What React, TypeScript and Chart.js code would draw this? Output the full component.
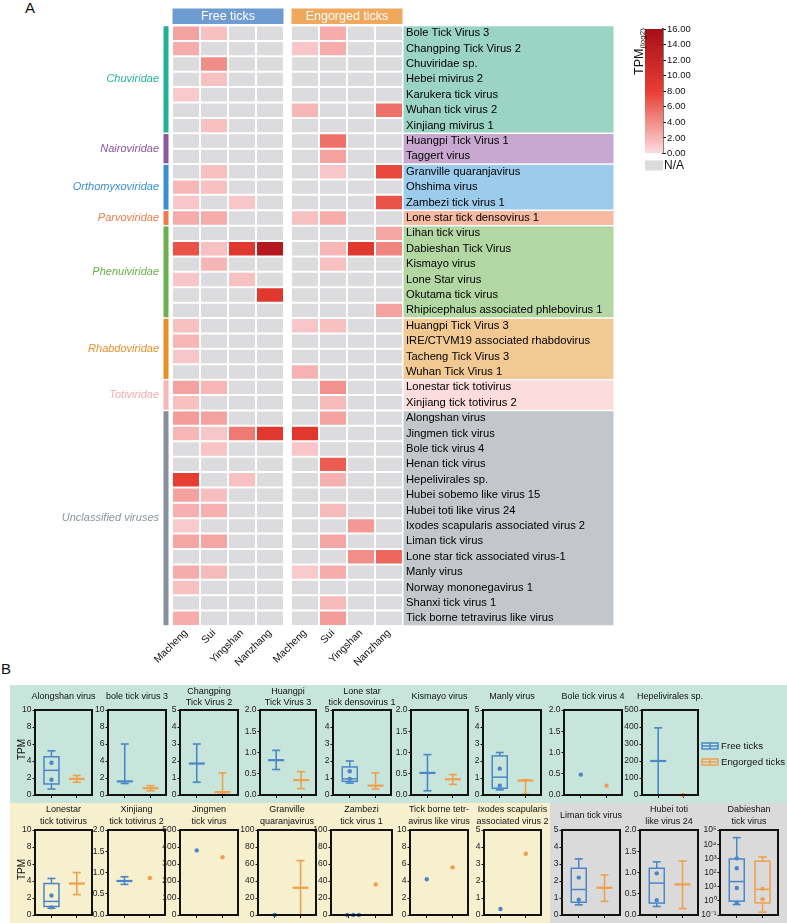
import React, { useEffect, useRef } from 'react';
import { Chart, registerables } from 'chart.js';

Chart.register(...registerables);

const FONT = '"Liberation Sans", Arial, Helvetica, sans-serif';
Chart.defaults.font.family = FONT;
Chart.defaults.color = '#111';

// ---------------- Panel A data ----------------
const virusNames = [
  'Bole Tick Virus 3', 'Changping Tick Virus 2', 'Chuviridae sp.', 'Hebei mivirus 2', 'Karukera tick virus',
  'Wuhan tick virus 2', 'Xinjiang mivirus 1',
  'Huangpi Tick Virus 1', 'Taggert virus',
  'Granville quaranjavirus', 'Ohshima virus', 'Zambezi tick virus 1',
  'Lone star tick densovirus 1',
  'Lihan tick virus', 'Dabieshan Tick Virus', 'Kismayo virus', 'Lone Star virus', 'Okutama tick virus',
  'Rhipicephalus associated phlebovirus 1',
  'Huangpi Tick Virus 3', 'IRE/CTVM19 associated rhabdovirus', 'Tacheng Tick Virus 3', 'Wuhan Tick Virus 1',
  'Lonestar tick totivirus', 'Xinjiang tick totivirus 2',
  'Alongshan virus', 'Jingmen tick virus', 'Bole tick virus 4', 'Henan tick virus', 'Hepelivirales sp.',
  'Hubei sobemo like virus 15', 'Hubei toti like virus 24', 'Ixodes scapularis associated virus 2',
  'Liman tick virus', 'Lone star tick associated virus-1', 'Manly virus', 'Norway mononegavirus 1',
  'Shanxi tick virus 1', 'Tick borne tetravirus like virus',
];
const familyNames = ['Chuviridae', 'Nairoviridae', 'Orthomyxoviridae', 'Parvoviridae', 'Phenuiviridae', 'Rhabdoviridae', 'Totiviridae', 'Unclassified viruses'];
const familySizes = [7, 2, 3, 1, 6, 4, 2, 14];
const siteNames = ['Macheng', 'Sui', 'Yingshan', 'Nanzhang'];
const groupNames = ['Free ticks', 'Engorged ticks'];
const _ = null;
// log2 TPM, null = N/A
const freeMacheng = [3, 2.5, _, _, 1, _, _, _, _, _, 2, 1.2, 2.5, _, 7, _, 1.2, _, _, 1.5, 2, 1.2, _, 3, 1.5, 3.3, 2, _, _, 8, 3, 2.3, 1, 2.8, _, 2.5, 1.5, _, 2.5];
const freeSui = [1.5, _, 4, 1.5, _, _, 1.5, _, _, 1.5, 1.5, _, 2.5, _, 1.5, 2, _, _, _, _, _, _, _, 2, _, 3, 1.2, 1.3, _, _, 1.6, 2.3, _, 2.8, _, 1.8, _, _, _];
const freeYingshan = [_, _, _, _, _, _, _, _, _, _, _, 1.2, _, _, 9, _, 1.5, _, _, _, _, _, _, _, _, _, 5, _, _, 1.5, _, _, _, _, _, _, _, _, _];
const freeNanzhang = [_, _, _, _, _, _, _, _, _, _, _, _, _, _, 14.5, _, _, 9, _, _, _, _, _, _, _, _, 9, _, _, _, _, _, _, _, _, _, _, _, _];
const engMacheng = [_, 1.2, _, _, _, 2, _, _, _, _, _, _, 1.5, _, _, _, _, _, _, 1.2, _, _, 2.2, _, _, _, 9, 1.2, _, _, _, _, _, _, _, 1, _, _, _];
const engSui = [2.5, 2.5, _, _, _, _, _, 5.5, 3, 1.2, _, _, 2.5, _, 2, 1.5, _, _, _, 1.5, _, _, _, 3.8, 1.8, 3, _, _, 6.5, 2.3, _, 1.8, _, 2.8, _, 2.5, _, 1.8, 3.3];
const engYingshan = [_, _, _, _, _, _, _, _, _, _, _, _, _, _, 9, _, _, _, _, _, _, _, _, _, _, _, _, _, _, _, _, _, 3.5, _, 4, _, _, _, _];
const engNanzhang = [_, _, _, _, _, 5.5, _, _, _, 7.5, _, 7, _, 2.8, 4.5, _, _, _, 3, _, _, _, _, _, _, _, _, _, _, _, _, _, _, _, 6, _, _, _, _];
const heatColumns = [freeMacheng, freeSui, freeYingshan, freeNanzhang, engMacheng, engSui, engYingshan, engNanzhang];
const colorbarTicks = [0, 2, 4, 6, 8, 10, 12, 14, 16];

// ---------------- Panel A styles ----------------
const familyText = ['#25b392', '#8e55a0', '#3a8fd0', '#ef7b4a', '#6ab04c', '#e98f2a', '#f3aeb0', '#8a93a0'];
const familyBar = ['#22b394', '#8e55a0', '#3a8fd0', '#ef7b4a', '#6ab04c', '#e98f2a', '#f5b8b8', '#868f9c'];
const familyBg = ['#9bd3c5', '#c8a7d1', '#9ccbec', '#f6b9a2', '#b3d7a3', '#f2c893', '#fcdcdc', '#c3c6cb'];
const headerColors = ['#6e9bd0', '#f0a95c'];
const NA_COLOR = '#dcdcde';
const gradStops: [number, number[]][] = [[0, [251, 222, 226]], [8, [232, 62, 50]], [16, [165, 15, 25]]];

function heatColor(v: number | null) {
  if (v == null) return NA_COLOR;
  for (let i = 0; i < gradStops.length - 1; i++) {
    const [a, ca] = gradStops[i];
    const [b, cb] = gradStops[i + 1];
    if (v <= b) {
      const t = Math.max(0, (v - a) / (b - a));
      const c = ca.map((x, k) => Math.round(x + (cb[k] - x) * t));
      return `rgb(${c.join(',')})`;
    }
  }
  return `rgb(${gradStops[gradStops.length - 1][1].join(',')})`;
}
const colStart = (i: number) => (i < 4 ? i : i + 0.25);

// ---------------- Panel B data ----------------
type Stats = (number | null)[] | null; // [min, q1, median, q3, max]
const row1Titles = ['Alongshan virus', 'bole tick virus 3', 'Changping\nTick Virus 2', 'Huangpi\nTick Virus 3', 'Lone star\ntick densovirus 1', 'Kismayo virus', 'Manly virus', 'Bole tick virus 4', 'Hepelivirales sp.'];
const row1YMax = [10, 10, 5, 2, 5, 2, 5, 2, 500];
const row1YStep = [2, 2, 1, 0.5, 1, 0.5, 1, 0.5, 100];
const row1FreeBox: Stats[] = [[0.7, 1.3, 2.9, 4.5, 5.2], [1.35, _, 1.6, _, 6.0], [0.75, _, 1.85, _, 3.0], [0.6, _, 0.82, _, 1.05], [0.7, 0.8, 0.95, 1.65, 2.0], [0.1, _, 0.52, _, 0.95], [0.3, 0.4, 1.05, 2.3, 2.5], null, [0, _, 200, _, 395]];
const row1EngBox: Stats[] = [[1.5, _, 1.9, _, 2.3], [0.5, _, 0.8, _, 1.1], [0.05, _, 0.17, _, 1.3], [0.15, _, 0.35, _, 0.55], [0.35, _, 0.55, _, 1.3], [0.25, _, 0.37, _, 0.48], [0.05, _, 0.85, _, 0.9], null, null];
const row1FreePts = [[3.8, 1.8], [], [], [], [1.4, 0.95], [], [1.55, 0.55], [0.48], []];
const row1EngPts = [[], [], [], [], [], [], [], [0.22], [0]];

const row2Titles = ['Lonestar\ntick totivirus', 'Xinjiang\ntick totivirus 2', 'Jingmen\ntick virus', 'Granville\nquaranjavirus', 'Zambezi\ntick virus 1', 'Tick borne tetr-\navirus like virus', 'Ixodes scapularis\nassociated virus 2', 'Liman tick virus', 'Hubei toti\nlike virus 24', 'Dabieshan\ntick virus'];
const row2YMax = [10, 2, 500, 100, 100, 10, 5, 5, 2, 100000];
const row2YStep = [2, 0.5, 100, 20, 20, 2, 1, 1, 0.5, 0];
const row2LogScale = [false, false, false, false, false, false, false, false, false, true];
const logExponents = [-1, 0, 1, 2, 3, 4, 5];
const row2FreeBox: Stats[] = [[0.8, 1.0, 1.6, 3.7, 4.3], [0.72, _, 0.8, _, 0.9], null, null, null, null, null, [0.6, 0.75, 1.5, 2.75, 3.3], [0.2, 0.28, 0.75, 1.1, 1.25], [0.55, 0.95, 23, 900, 29000]];
const row2EngBox: Stats[] = [[2.4, _, 3.7, _, 5.0], null, null, [0, _, 32, _, 64], null, null, null, [0.8, _, 1.6, _, 2.35], [0.15, _, 0.72, _, 1.27], [0.16, 0.72, 6.5, 630, 1260]];
const row2FreePts = [[2.3, 0.9], [], [380], [0], [0, 0, 0], [4.2], [0.35], [2.2, 0.9], [0.98, 0.35], [1000, 200, 8, 0.7]];
const row2EngPts = [[], [0.87], [340], [], [36], [5.6], [3.6], [], [], [7, 1.3]];
const row2FreeJitter = [[], [], [], [], [-0.05, 0.17, 0.38], [], [], [], [], []];

// ---------------- Panel B layout ----------------
const row1Frames = [[35, 92], [108, 166], [180, 238], [260, 316], [333, 391], [411, 468], [483, 541], [564, 622], [642, 698]];
const row2Frames = [[35, 92], [108, 165], [180, 238], [258, 316], [331, 392], [410, 468], [484, 541], [562, 620], [640, 698], [720, 778]];
const BLUE = '#4a86c8';
const ORANGE = '#f0a04b';
const legendLabels = ['Free ticks', 'Engorged ticks'];

function ChartBox({ config, left, top, width, height }: any) {
  const ref = useRef<HTMLCanvasElement>(null);
  useEffect(() => {
    let chart: any = null;
    try {
      chart = new Chart(ref.current as HTMLCanvasElement, config);
    } catch (e) {
      console.error(e);
    }
    return () => { if (chart) chart.destroy(); };
  }, []);
  return (
    <canvas
      ref={ref}
      width={width}
      height={height}
      style={{ position: 'absolute', left, top, width, height }}
    />
  );
}

// ---------------- Heatmap ----------------
const heatPlugin = {
  id: 'heatDecor',
  beforeDraw(chart: any) {
    const { ctx, chartArea: ca, scales } = chart;
    const x = scales.x, y = scales.y;
    const half = (y.getPixelForValue(1) - y.getPixelForValue(0)) / 2;
    let start = 0;
    ctx.save();
    familyNames.forEach((name, f) => {
      const end = start + familySizes[f] - 1;
      const top = y.getPixelForValue(start) - half;
      const bot = y.getPixelForValue(end) + half;
      ctx.fillStyle = familyBg[f];
      ctx.fillRect(ca.right + 0.5, top + 0.75, 210, bot - top - 1.5);
      ctx.fillStyle = familyBar[f];
      ctx.fillRect(ca.left - 8.5, top + 0.75, 5, bot - top - 1.5);
      ctx.fillStyle = familyText[f];
      ctx.font = `italic 11px ${FONT}`;
      ctx.textAlign = 'right';
      ctx.textBaseline = 'middle';
      ctx.fillText(name, ca.left - 13, (top + bot) / 2);
      start = end + 1;
    });
    groupNames.forEach((g, k) => {
      const l = x.getPixelForValue(colStart(k * 4)) + 0.5;
      const r = x.getPixelForValue(colStart(k * 4 + 3) + 1) - 0.5;
      ctx.fillStyle = headerColors[k];
      ctx.fillRect(l, ca.top - 17, r - l, 15.5);
      ctx.fillStyle = '#fff';
      ctx.font = `12.5px ${FONT}`;
      ctx.textAlign = 'center';
      ctx.textBaseline = 'middle';
      ctx.fillText(g, (l + r) / 2, ca.top - 9);
    });
    ctx.restore();
  },
};

const heatConfig: any = {
  type: 'bar',
  data: {
    labels: virusNames,
    datasets: heatColumns.map((col, i) => ({
      label: `${groupNames[i < 4 ? 0 : 1]} ${siteNames[i % 4]}`,
      data: col.map(() => [colStart(i) + 0.035, colStart(i) + 0.965]),
      backgroundColor: col.map(heatColor),
      borderWidth: 0,
      grouped: false,
      barPercentage: 0.87,
      categoryPercentage: 1,
    })),
  },
  options: {
    indexAxis: 'y',
    responsive: false,
    maintainAspectRatio: false,
    animation: false,
    layout: { padding: { left: 172, right: 173, top: 25.5, bottom: 4 } },
    plugins: { legend: { display: false }, tooltip: { enabled: false } },
    scales: {
      x: {
        type: 'linear',
        min: 0,
        max: 8.25,
        position: 'bottom',
        afterBuildTicks: (s: any) => {
          s.ticks = heatColumns.map((_c, i) => ({ value: colStart(i) + 0.5 }));
        },
        ticks: {
          autoSkip: false,
          minRotation: 45,
          maxRotation: 45,
          font: { size: 10.3 },
          color: '#111',
          padding: 1,
          callback: (_v: any, i: number) => siteNames[i % 4],
        },
        grid: { display: false, drawTicks: false },
        border: { display: false },
        afterFit: (s: any) => { s.height = 50; },
      },
      y: {
        type: 'category',
        position: 'right',
        ticks: { autoSkip: false, font: { size: 11.2 }, color: '#000', padding: 3 },
        grid: { display: false, drawTicks: false },
        border: { display: false },
        afterFit: (s: any) => { s.width = 211; },
      },
    },
  },
  plugins: [heatPlugin],
};

// ---------------- Colour bar ----------------
const colorbarPlugin = {
  id: 'cbDecor',
  afterDraw(chart: any) {
    const { ctx, chartArea: ca } = chart;
    ctx.save();
    ctx.fillStyle = NA_COLOR;
    ctx.fillRect(ca.left, ca.bottom + 7, ca.right - ca.left, 10);
    ctx.fillStyle = '#111';
    ctx.font = `12px ${FONT}`;
    ctx.textAlign = 'left';
    ctx.textBaseline = 'middle';
    ctx.fillText('N/A', ca.right + 1, ca.bottom + 12.5);
    ctx.translate(ca.left - 2, 75);
    ctx.rotate(-Math.PI / 2);
    ctx.textBaseline = 'alphabetic';
    ctx.font = `12.5px ${FONT}`;
    ctx.fillText('TPM', 0, 0);
    const w = ctx.measureText('TPM').width;
    ctx.font = `8px ${FONT}`;
    ctx.fillText('(log2)', w, 2);
    ctx.restore();
  },
};

const colorbarConfig: any = {
  type: 'bar',
  data: {
    labels: [''],
    datasets: [{
      data: [[colorbarTicks[0], colorbarTicks[colorbarTicks.length - 1]]],
      backgroundColor: (c: any) => {
        const chart = c.chart;
        const ys = chart.scales && chart.scales.y;
        if (!ys) return '#e33';
        const y0 = ys.getPixelForValue(0);
        const y1 = ys.getPixelForValue(16);
        if (!isFinite(y0) || !isFinite(y1) || y0 === y1) return '#e33';
        const g = chart.ctx.createLinearGradient(0, y0, 0, y1);
        gradStops.forEach(([v, rgb]) => g.addColorStop(v / 16, `rgb(${rgb.join(',')})`));
        return g;
      },
      borderWidth: 0,
      barPercentage: 1,
      categoryPercentage: 1,
    }],
  },
  options: {
    responsive: false,
    maintainAspectRatio: false,
    animation: false,
    layout: { padding: { left: 25, right: 74, top: 29, bottom: 26.5 } },
    plugins: { legend: { display: false }, tooltip: { enabled: false } },
    scales: {
      x: { display: false },
      y: {
        position: 'right',
        min: 0,
        max: 16,
        afterBuildTicks: (s: any) => { s.ticks = colorbarTicks.map((v) => ({ value: v })); },
        ticks: { font: { size: 9.5 }, color: '#111', padding: 1, autoSkip: false, callback: (v: any) => Number(v).toFixed(2) },
        grid: { drawOnChartArea: false, drawTicks: true, tickLength: 3, color: '#000', lineWidth: 1 },
        border: { display: true, color: '#000', width: 1.5 },
        afterFit: (s: any) => { s.width = 50; },
      },
    },
  },
  plugins: [colorbarPlugin],
};

// ---------------- Box charts ----------------
const SUP: Record<string, string> = { '-': '⁻', '0': '⁰', '1': '¹', '2': '²', '3': '³', '4': '⁴', '5': '⁵', '6': '⁶', '7': '⁷', '8': '⁸', '9': '⁹' };
const sup = (n: number) => String(n).split('').map((c) => SUP[c] || c).join('');
const PAD_L = 10;

function makeBoxChart(o: any) {
  const plugin = {
    id: 'boxes',
    beforeDatasetsDraw(chart: any) {
      const { ctx, scales } = chart;
      const xs = scales.x, ys = scales.y;
      const items: any[] = [[o.fBox, 1, BLUE], [o.eBox, 2, ORANGE]];
      for (const [st, pos, col] of items) {
        if (!st) continue;
        const [mn, q1, md, q3, mx] = st;
        const cx = xs.getPixelForValue(pos);
        const py = (v: number) => ys.getPixelForValue(v);
        ctx.save();
        ctx.strokeStyle = col;
        const seg = (x1: number, y1: number, x2: number, y2: number, w: number) => {
          ctx.lineWidth = w;
          ctx.beginPath();
          ctx.moveTo(x1, y1);
          ctx.lineTo(x2, y2);
          ctx.stroke();
        };
        if (q1 != null && q3 != null) {
          seg(cx, py(mx), cx, py(q3), 1.5);
          seg(cx, py(q1), cx, py(mn), 1.5);
          ctx.lineWidth = 1.5;
          ctx.strokeRect(cx - 7.5, py(q3), 15, py(q1) - py(q3));
          seg(cx - 7.5, py(md), cx + 7.5, py(md), 1.5);
        } else {
          seg(cx, py(mx), cx, py(mn), 1.6);
          seg(cx - 8, py(md), cx + 8, py(md), 2.2);
        }
        seg(cx - 4, py(mx), cx + 4, py(mx), 1.6);
        seg(cx - 4, py(mn), cx + 4, py(mn), 1.6);
        ctx.restore();
      }
    },
    afterDraw(chart: any) {
      const { ctx, chartArea: ca } = chart;
      ctx.save();
      ctx.strokeStyle = '#111';
      ctx.lineWidth = 2;
      ctx.strokeRect(ca.left, ca.top, ca.right - ca.left, ca.bottom - ca.top);
      ctx.fillStyle = '#111';
      ctx.font = `9px ${FONT}`;
      ctx.textAlign = 'center';
      ctx.textBaseline = 'middle';
      const lines = o.title.split('\n');
      const cx = (ca.left + ca.right) / 2;
      if (lines.length === 1) ctx.fillText(lines[0], cx, ca.top - o.single);
      else {
        ctx.fillText(lines[0], cx, ca.top - o.double[0]);
        ctx.fillText(lines[1], cx, ca.top - o.double[1]);
      }
      if (o.tpm) {
        ctx.save();
        ctx.translate(ca.left - 13, (ca.top + ca.bottom) / 2 - 3);
        ctx.rotate(-Math.PI / 2);
        ctx.font = `10px ${FONT}`;
        ctx.fillText('TPM', 0, 0);
        ctx.restore();
      }
      if (o.legend) {
        legendLabels.forEach((lab, k) => {
          const col = k === 0 ? BLUE : ORANGE;
          const ly = ca.top + 36 + k * 16;
          const lx = ca.right + 4;
          ctx.strokeStyle = col;
          ctx.lineWidth = 1.5;
          ctx.strokeRect(lx, ly - 3, 16, 6);
          ctx.beginPath();
          ctx.moveTo(lx, ly); ctx.lineTo(lx + 16, ly);
          ctx.moveTo(lx + 8, ly - 3); ctx.lineTo(lx + 8, ly + 3);
          ctx.stroke();
          ctx.fillStyle = '#111';
          ctx.font = `9.7px ${FONT}`;
          ctx.textAlign = 'left';
          ctx.fillText(lab, lx + 19, ly);
        });
      }
      ctx.restore();
    },
  };

  const yScale: any = o.log
    ? {
        type: 'logarithmic',
        min: Math.pow(10, logExponents[0]),
        max: Math.pow(10, logExponents[logExponents.length - 1]),
        afterBuildTicks: (s: any) => { s.ticks = logExponents.map((e) => ({ value: Math.pow(10, e) })); },
        ticks: { autoSkip: false, callback: (v: any) => '10' + sup(Math.round(Math.log10(v))) },
      }
    : {
        type: 'linear',
        min: 0,
        max: o.yMax,
        ticks: { autoSkip: false, stepSize: o.step, callback: (v: any) => (o.step < 1 ? Number(v).toFixed(1) : String(v)) },
      };
  yScale.position = 'left';
  yScale.ticks.font = { size: 8.5 };
  yScale.ticks.color = '#222';
  yScale.ticks.padding = 1;
  yScale.grid = { drawOnChartArea: false, drawTicks: true, tickLength: 2.5, color: '#111', lineWidth: 1 };
  yScale.border = { display: false };
  yScale.afterFit = (s: any) => { s.width = 30; };

  return {
    type: 'scatter',
    data: {
      datasets: [
        { data: o.fPts.map((v: number, i: number) => ({ x: 1 + ((o.fJit && o.fJit[i]) || 0), y: v })), backgroundColor: BLUE, borderWidth: 0, pointRadius: 2.2, clip: false },
        { data: o.ePts.map((v: number) => ({ x: 2, y: v })), backgroundColor: ORANGE, borderWidth: 0, pointRadius: 2.2, clip: false },
      ],
    },
    options: {
      responsive: false,
      maintainAspectRatio: false,
      animation: false,
      layout: { padding: { left: PAD_L, right: o.padRight, top: 26, bottom: 2 } },
      plugins: { legend: { display: false }, tooltip: { enabled: false } },
      scales: {
        x: {
          type: 'linear',
          min: 0.35,
          max: 2.6,
          afterBuildTicks: (s: any) => { s.ticks = [{ value: 1 }, { value: 2 }]; },
          ticks: { callback: () => '', autoSkip: false, maxRotation: 0 },
          grid: { drawOnChartArea: false, drawTicks: true, tickLength: 3, color: '#111', lineWidth: 1 },
          border: { display: false },
          afterFit: (s: any) => { s.height = 5; },
        },
        y: yScale,
      },
    },
    plugins: [plugin],
  };
}

function buildRow(rowIdx: number) {
  const isRow1 = rowIdx === 0;
  const frames = isRow1 ? row1Frames : row2Frames;
  const titles = isRow1 ? row1Titles : row2Titles;
  const frameTop = isRow1 ? 710 : 830;
  return frames.map(([l, r], i) => {
    const legend = isRow1 && i === frames.length - 1;
    const padRight = legend ? 92 : 14;
    const o = {
      title: titles[i],
      yMax: isRow1 ? row1YMax[i] : row2YMax[i],
      step: isRow1 ? row1YStep[i] : row2YStep[i],
      log: isRow1 ? false : row2LogScale[i],
      fBox: isRow1 ? row1FreeBox[i] : row2FreeBox[i],
      eBox: isRow1 ? row1EngBox[i] : row2EngBox[i],
      fPts: isRow1 ? row1FreePts[i] : row2FreePts[i],
      ePts: isRow1 ? row1EngPts[i] : row2EngPts[i],
      fJit: isRow1 ? [] : row2FreeJitter[i],
      tpm: i === 0,
      legend,
      padRight,
      single: isRow1 ? 13.5 : 14,
      double: isRow1 ? [18.5, 7.5] : [20, 8.5],
    };
    const width = PAD_L + 30 + (r - l) + padRight;
    return (
      <ChartBox
        key={`${rowIdx}-${i}`}
        config={makeBoxChart(o)}
        left={l - 30 - PAD_L}
        top={frameTop - 26}
        width={width}
        height={26 + 85 + 5 + 2}
      />
    );
  });
}

export default function App() {
  const letter: React.CSSProperties = { position: 'absolute', fontFamily: FONT, fontSize: 15, lineHeight: 1, color: '#111' };
  return (
    <div style={{ position: 'absolute', left: 0, top: 0, width: 787, height: 923, background: '#fff', overflow: 'hidden' }}>
      <div style={{ ...letter, left: 25, top: 0 }}>A</div>
      <div style={{ ...letter, left: 1, top: 661 }}>B</div>
      <ChartBox config={heatConfig} left={0} top={0} width={787} height={680} />
      <ChartBox config={colorbarConfig} left={620} top={0} width={167} height={180} />
      <div style={{ position: 'absolute', left: 10, top: 685, width: 777, height: 118, background: '#c8e5dc' }} />
      <div style={{ position: 'absolute', left: 10, top: 803, width: 540, height: 120, background: '#f7f0cf' }} />
      <div style={{ position: 'absolute', left: 550, top: 803, width: 237, height: 120, background: '#dadada' }} />
      {buildRow(0)}
      {buildRow(1)}
    </div>
  );
}
